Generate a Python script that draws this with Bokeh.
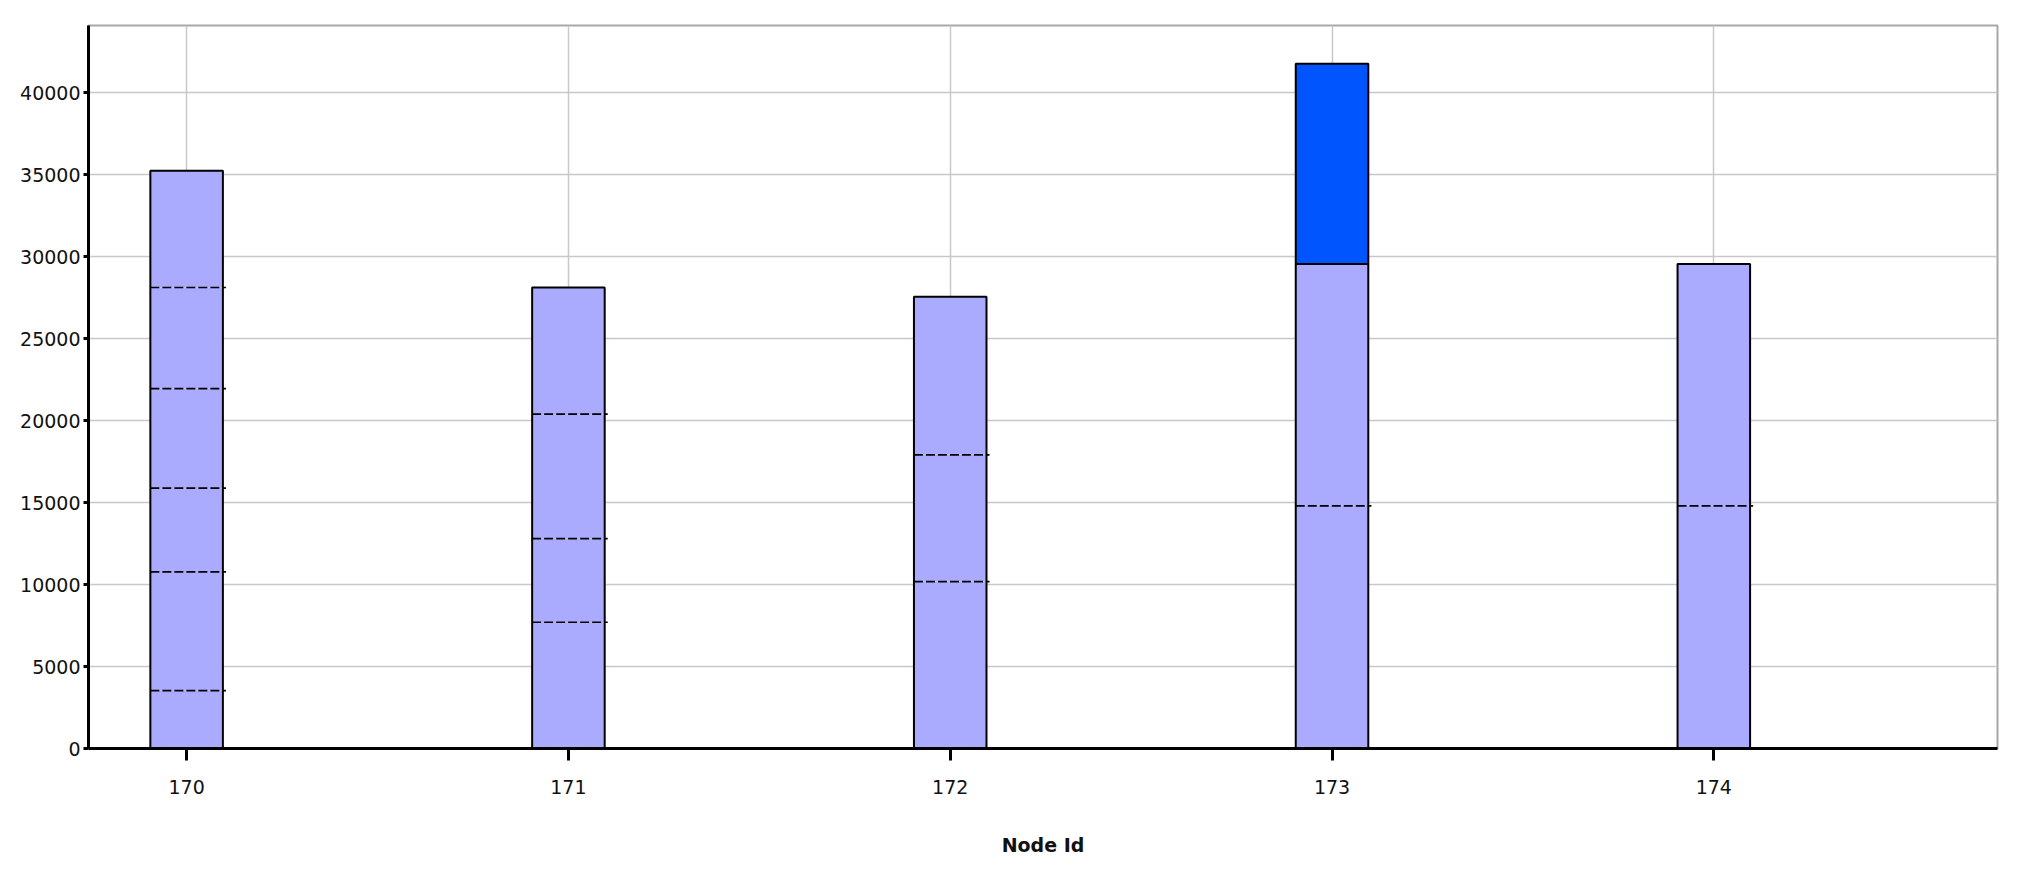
from bokeh.plotting import figure
from bokeh.models import ColumnDataSource, Range1d, FixedTicker, NumeralTickFormatter
from bokeh.embed import file_html
from bokeh.resources import INLINE

# ---- data ----
node_ids = [170, 171, 172, 173, 174]
seg_170 = [3530, 7240, 5110, 6070, 6170, 7120]
seg_171 = [7700, 5100, 7590, 7730]
seg_172 = [10180, 7730, 9640]
seg_173 = [14800, 14750]
seg_174 = [14800, 14750]
extra_blue = [0, 0, 0, 12220, 0]
y_ticks = [0, 5000, 10000, 15000, 20000, 25000, 30000, 35000, 40000]
x_label = "Node Id"

segments = [seg_170, seg_171, seg_172, seg_173, seg_174]

BAR_W = 0.19
LIGHT = "#aaaaff"
BLUE = "#0055ff"
FONT = "DejaVu Sans"

# build tables from the arrays
seg_x, seg_bottom, seg_top = [], [], []
div_x0, div_x1, div_y = [], [], []
tot_x, tot_top = [], []
for nid, segs in zip(node_ids, segments):
    cum = 0
    for i, s in enumerate(segs):
        seg_x.append(nid)
        seg_bottom.append(cum)
        cum += s
        seg_top.append(cum)
        if i < len(segs) - 1:
            div_x0.append(nid - BAR_W / 2)
            div_x1.append(nid + BAR_W / 2 + 0.008)
            div_y.append(cum)
    tot_x.append(nid)
    tot_top.append(cum)

blue_x = [n for n, b in zip(node_ids, extra_blue) if b > 0]
blue_bottom = [t for t, b in zip(tot_top, extra_blue) if b > 0]
blue_top = [t + b for t, b in zip(tot_top, extra_blue) if b > 0]

seg_src = ColumnDataSource(dict(x=seg_x, bottom=seg_bottom, top=seg_top))
div_src = ColumnDataSource(dict(x0=div_x0, x1=div_x1, y=div_y))
tot_src = ColumnDataSource(dict(x=tot_x, top=tot_top))
blue_src = ColumnDataSource(dict(x=blue_x, bottom=blue_bottom, top=blue_top))

p = figure(width=2010, height=860, output_backend="svg", toolbar_location=None,
           x_range=Range1d(169.743, 174.743), y_range=Range1d(0, 44100),
           min_border_left=88, min_border_right=13, min_border_top=25, min_border_bottom=112)
p.background_fill_color = "white"
p.border_fill_color = "white"
p.outline_line_color = "#a8a8a8"
p.outline_line_width = 2

# grids
p.xgrid.ticker = FixedTicker(ticks=node_ids)
p.ygrid.ticker = FixedTicker(ticks=y_ticks)
for g in (p.xgrid, p.ygrid):
    g.grid_line_color = "#c8c8c8"
    g.grid_line_width = 1.5

# bars
p.vbar(x="x", width=BAR_W, bottom="bottom", top="top", source=seg_src,
       fill_color=LIGHT, line_color=None)
p.segment(x0="x0", y0="y", x1="x1", y1="y", source=div_src,
          line_color="black", line_width=1.7, line_dash="9 3")
p.vbar(x="x", width=BAR_W, bottom=0, top="top", source=tot_src,
       fill_color=None, line_color="black", line_width=2)
p.vbar(x="x", width=BAR_W, bottom="bottom", top="top", source=blue_src,
       fill_color=BLUE, line_color="black", line_width=2)

# axes
p.xaxis.ticker = FixedTicker(ticks=node_ids)
p.yaxis.ticker = FixedTicker(ticks=y_ticks)
p.xaxis.formatter = NumeralTickFormatter(format="0")
p.yaxis.formatter = NumeralTickFormatter(format="0")
for ax in (p.xaxis[0], p.yaxis[0]):
    ax.axis_line_color = "black"
    ax.axis_line_width = 3
    ax.major_tick_line_color = "black"
    ax.major_tick_line_width = 3
    ax.major_tick_in = 0
    ax.minor_tick_line_color = None
    ax.major_label_text_font = FONT
    ax.major_label_text_font_size = "19px"
    ax.major_label_text_color = "#111111"
p.xaxis.major_tick_out = 12
p.yaxis.major_tick_out = 5
p.xaxis.major_label_standoff = 19
p.yaxis.major_label_standoff = 3
p.xaxis.axis_label = x_label
p.xaxis.axis_label_text_font = FONT
p.xaxis.axis_label_text_font_size = "19px"
p.xaxis.axis_label_text_font_style = "bold"
p.xaxis.axis_label_text_color = "#111111"
p.xaxis.axis_label_standoff = 37

open("out.html", "w").write(file_html(p, INLINE))
